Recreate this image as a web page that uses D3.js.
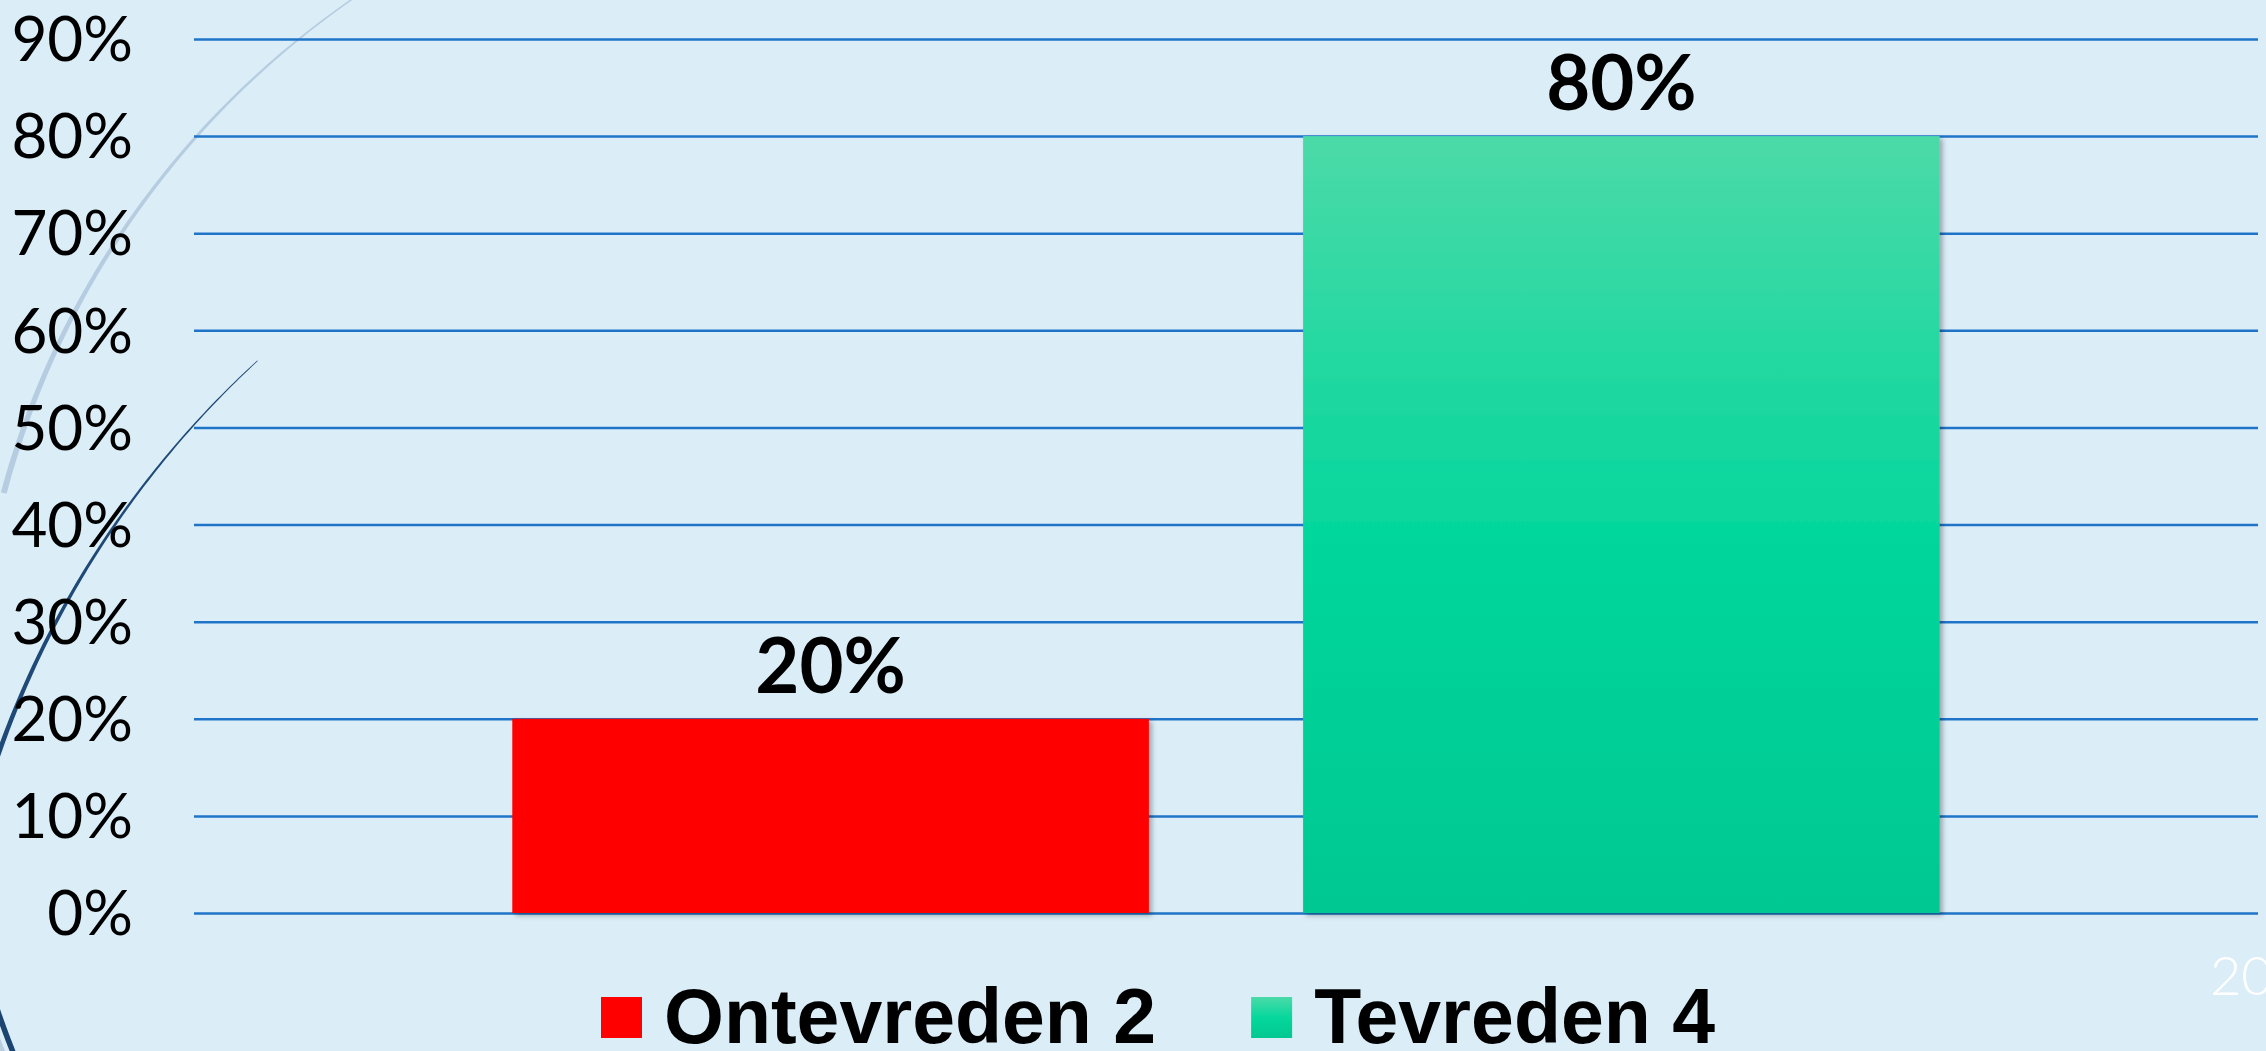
<!DOCTYPE html>
<html>
<head>
<meta charset="utf-8">
<script src="https://cdn.jsdelivr.net/npm/d3@7"></script>
<style>
  html, body { margin: 0; padding: 0; background: #dbeef8; overflow: hidden; }
  svg { display: block; }
</style>
</head>
<body>
<div id="chart"></div>
<script>
// ---------------------------------------------------------------------------//
// Data
// ---------------------------------------------------------------------------//
const seriesNames = ["Ontevreden 2", "Tevreden 4"];
const seriesValues = [0.2, 0.8];
const yTicks = [0, 0.1, 0.2, 0.3, 0.4, 0.5, 0.6, 0.7, 0.8, 0.9];
const pageNumber = "20";

// ---------------------------------------------------------------------------//
// Layout
// ---------------------------------------------------------------------------//
const width = 2266;
const height = 1051;
const margin = { top: 39, right: 8, bottom: 138, left: 194 };
const innerWidth = width - margin.left - margin.right;
const innerHeight = height - margin.top - margin.bottom;

const formatPct = d3.format(".0%");

const svg = d3.select("#chart")
  .append("svg")
  .attr("width", width)
  .attr("height", height);

svg.append("rect")
  .attr("width", width)
  .attr("height", height)
  .attr("fill", "#dbeef8");

const defs = svg.append("defs");

// green gradient (bars + legend swatch)
const grad = defs.append("linearGradient")
  .attr("id", "greenGrad")
  .attr("x1", 0).attr("y1", 0).attr("x2", 0).attr("y2", 1);
grad.append("stop").attr("offset", "0%").attr("stop-color", "#4bdaa8");
grad.append("stop").attr("offset", "50%").attr("stop-color", "#06d79c");
grad.append("stop").attr("offset", "100%").attr("stop-color", "#00c892");

const shadow = defs.append("filter")
  .attr("id", "barShadow")
  .attr("x", "-5%").attr("y", "-5%")
  .attr("width", "110%").attr("height", "110%");
shadow.append("feDropShadow")
  .attr("dx", 3).attr("dy", 2.5)
  .attr("stdDeviation", 2.5)
  .attr("flood-color", "#000")
  .attr("flood-opacity", 0.3);

const fills = ["#ff0000", "url(#greenGrad)"];

// ---------------------------------------------------------------------------//
// Decorative theme arcs (left edge)
// ---------------------------------------------------------------------------//
function taperedArc(cx, cy, r, a0, a1, w0, w1) {
  const n = 80;
  const outer = [], inner = [];
  for (let i = 0; i <= n; i++) {
    const t = i / n;
    const a = a0 + (a1 - a0) * t;
    const w = w0 + (w1 - w0) * t;
    outer.push([cx + (r + w / 2) * Math.cos(a), cy + (r + w / 2) * Math.sin(a)]);
    inner.push([cx + (r - w / 2) * Math.cos(a), cy + (r - w / 2) * Math.sin(a)]);
  }
  return d3.line()(outer.concat(inner.reverse())) + "Z";
}

const deco = svg.append("g").attr("class", "deco");

// light arc from the top
deco.append("path")
  .attr("d", taperedArc(848, 719, 874, -2.10, -2.88, 1, 6))
  .attr("fill", "#b6cde1");

// dark thin arc
deco.append("path")
  .attr("d", taperedArc(912, 1074, 968, -2.3133, -2.83, 0.8, 5))
  .attr("fill", "#1f4a78");

// bottom-left corner arc
deco.append("path")
  .attr("d", taperedArc(848, 719, 912, 2.70, 2.86, 12, 12))
  .attr("fill", "#b9cde0");
deco.append("path")
  .attr("d", taperedArc(848, 719, 899, 2.70, 2.86, 5.5, 5.5))
  .attr("fill", "#1b4470");

// ---------------------------------------------------------------------------//
// Scales and axis
// ---------------------------------------------------------------------------//
const g = svg.append("g")
  .attr("transform", `translate(${margin.left},${margin.top})`);

const x = d3.scaleBand()
  .domain(seriesNames)
  .range([0, innerWidth])
  .paddingInner(0.195)
  .paddingOuter(0.4025);

const y = d3.scaleLinear()
  .domain([0, 0.9])
  .range([innerHeight, 0]);

const yAxis = g.append("g")
  .call(
    d3.axisLeft(y)
      .tickValues(yTicks)
      .tickFormat(formatPct)
      .tickSize(-innerWidth)
      .tickPadding(61)
  );

yAxis.select(".domain").remove();
yAxis.selectAll(".tick line")
  .attr("stroke", "#1f74c8")
  .attr("stroke-width", 2.5);
yAxis.selectAll(".tick text")
  .attr("fill", "#000")
  .attr("dy", "0.35em")
  .style("font-family", "'Century Gothic', Lato, 'Open Sans', sans-serif")
  .style("font-size", "62px");

// ---------------------------------------------------------------------------//
// Bars and labels
// ---------------------------------------------------------------------------//
g.selectAll("rect.bar")
  .data(seriesValues)
  .join("rect")
  .attr("class", "bar")
  .attr("x", (d, i) => x(seriesNames[i]))
  .attr("y", (d) => y(d))
  .attr("width", x.bandwidth())
  .attr("height", (d) => y(0) - y(d))
  .attr("fill", (d, i) => fills[i])
  .attr("filter", "url(#barShadow)");

g.selectAll("text.value")
  .data(seriesValues)
  .join("text")
  .attr("class", "value")
  .attr("x", (d, i) => x(seriesNames[i]) + x.bandwidth() / 2)
  .attr("y", (d) => y(d) - 26)
  .attr("text-anchor", "middle")
  .attr("fill", "#000")
  .style("font-family", "'Century Gothic', Lato, 'Open Sans', sans-serif")
  .style("font-weight", "bold")
  .style("font-size", "76px")
  .text((d) => formatPct(d));

// ---------------------------------------------------------------------------//
// Legend
// ---------------------------------------------------------------------------//
const legend = svg.append("g")
  .attr("transform", "translate(601,997)");

let legendX = 0;
seriesNames.forEach((name, i) => {
  const item = legend.append("g").attr("transform", `translate(${legendX},0)`);
  item.append("rect")
    .attr("width", 41)
    .attr("height", 41)
    .attr("fill", fills[i]);
  const t = item.append("text")
    .attr("x", 63)
    .attr("y", 46)
    .attr("fill", "#000")
    .style("font-family", "'Liberation Sans', Arial, Helvetica, sans-serif")
    .style("font-weight", "bold")
    .style("font-size", "77px")
    .text(name);
  legendX += 63 + t.node().getComputedTextLength() + 95;
});

// page number (cut by the right edge, as on the slide)
svg.append("text")
  .attr("x", 2210)
  .attr("y", 995)
  .attr("fill", "#ffffff")
  .style("font-family", "Lato, 'Open Sans', sans-serif")
  .style("font-weight", 300)
  .style("font-size", "54px")
  .text(pageNumber);
</script>
</body>
</html>
